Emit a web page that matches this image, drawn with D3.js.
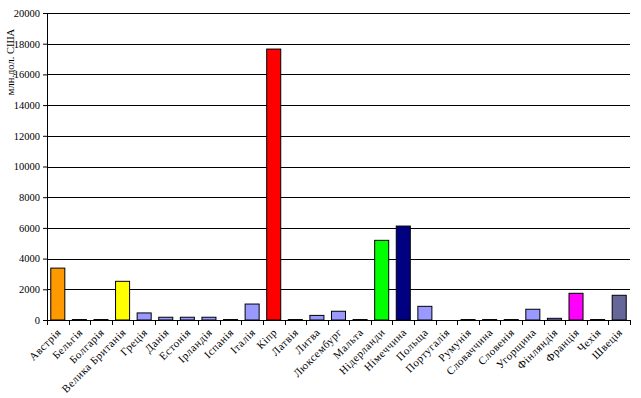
<!DOCTYPE html>
<html>
<head>
<meta charset="utf-8">
<script src="https://cdn.jsdelivr.net/npm/d3@7"></script>
<style>
body { margin: 0; background: #fff; }
text { font-family: "Liberation Serif", "DejaVu Serif", serif; }
</style>
</head>
<body>
<script>
var countries = ["Австрія", "Бельгія", "Болгарія", "Велика Британія", "Греція", "Данія", "Естонія",
  "Ірландія", "Іспанія", "Італія", "Кіпр", "Латвія", "Литва", "Люксембург", "Мальта", "Нідерланди",
  "Німеччина", "Польща", "Португалія", "Румунія", "Словаччина", "Словенія", "Угорщина", "Фінляндія",
  "Франція", "Чехія", "Швеція"];
var values = [3380, 30, 30, 2520, 460, 180, 180, 180, 30, 1040, 17650, 30, 300, 570, 30, 5190,
  6120, 890, 0, 30, 30, 30, 700, 110, 1740, 30, 1610];
var colors = ["#FF9900", "#9999FF", "#9999FF", "#FFFF00", "#9999FF", "#9999FF", "#9999FF",
  "#9999FF", "#9999FF", "#9999FF", "#FF0000", "#9999FF", "#9999FF", "#9999FF", "#9999FF", "#00FF00",
  "#000080", "#9999FF", "#9999FF", "#9999FF", "#9999FF", "#9999FF", "#9999FF", "#9999FF",
  "#FF00FF", "#9999FF", "#666699"];
var yTicks = [0, 2000, 4000, 6000, 8000, 10000, 12000, 14000, 16000, 18000, 20000];
var yTitle = "млн.дол. США";

var width = 641, height = 398;
var mLeft = 47, mRight = 630, mTop = 13, mBottom = 320;

var rows = countries.map((c, i) => ({ name: c, value: values[i], color: colors[i] }));

var svg = d3.select("body").append("svg")
  .attr("width", width)
  .attr("height", height);

var x = d3.scaleBand().domain(countries).range([mLeft, mRight]).paddingInner(0.35).paddingOuter(0.175);
var y = d3.scaleLinear().domain([0, 20000]).range([mBottom, mTop]);

// gridlines
svg.append("g").selectAll("line")
  .data(yTicks.slice(1))
  .enter().append("line")
  .attr("x1", mLeft).attr("x2", mRight)
  .attr("y1", d => Math.round(y(d)) + 0.5).attr("y2", d => Math.round(y(d)) + 0.5)
  .attr("stroke", "#000").attr("stroke-width", 1);

// bars (Португалія = 0, no bar)
svg.append("g").selectAll("rect")
  .data(rows.filter(d => d.value > 0))
  .enter().append("rect")
  .attr("x", d => x(d.name))
  .attr("width", x.bandwidth())
  .attr("y", d => y(d.value))
  .attr("height", d => mBottom - y(d.value))
  .attr("fill", d => d.color)
  .attr("stroke", "#000").attr("stroke-width", 1);

// y axis
var yAxis = svg.append("g")
  .attr("transform", "translate(" + mLeft + ",0)")
  .call(d3.axisLeft(y).tickValues(yTicks).tickSize(4).tickPadding(3).tickFormat(d3.format("d")));
yAxis.selectAll("text").attr("font-size", 10.5).attr("font-family", "Liberation Serif").attr("fill", "#000");
yAxis.selectAll("line, path").attr("stroke", "#000");

// x axis: ticks between categories
var xg = svg.append("g");
xg.append("line").attr("x1", mLeft).attr("x2", mRight).attr("y1", mBottom + 0.5).attr("y2", mBottom + 0.5).attr("stroke", "#000");
xg.selectAll("line.tk")
  .data(d3.range(countries.length + 1))
  .enter().append("line")
  .attr("class", "tk")
  .attr("x1", i => Math.round(mLeft + i * x.step()) + 0.5).attr("x2", i => Math.round(mLeft + i * x.step()) + 0.5)
  .attr("y1", mBottom).attr("y2", mBottom + 5)
  .attr("stroke", "#000");

xg.selectAll("text")
  .data(countries)
  .enter().append("text")
  .attr("transform", d => "translate(" + (x(d) + x.bandwidth() / 2 + 4) + "," + (mBottom + 13) + ") rotate(-45)")
  .attr("text-anchor", "end")
  .attr("font-size", 11)
  .attr("letter-spacing", 0.5)
  .attr("fill", "#000")
  .text(d => d);

// y title
svg.append("text")
  .attr("transform", "translate(14,62) rotate(-90)")
  .attr("text-anchor", "middle")
  .attr("font-size", 10.5)
  .text(yTitle);
</script>
</body>
</html>
